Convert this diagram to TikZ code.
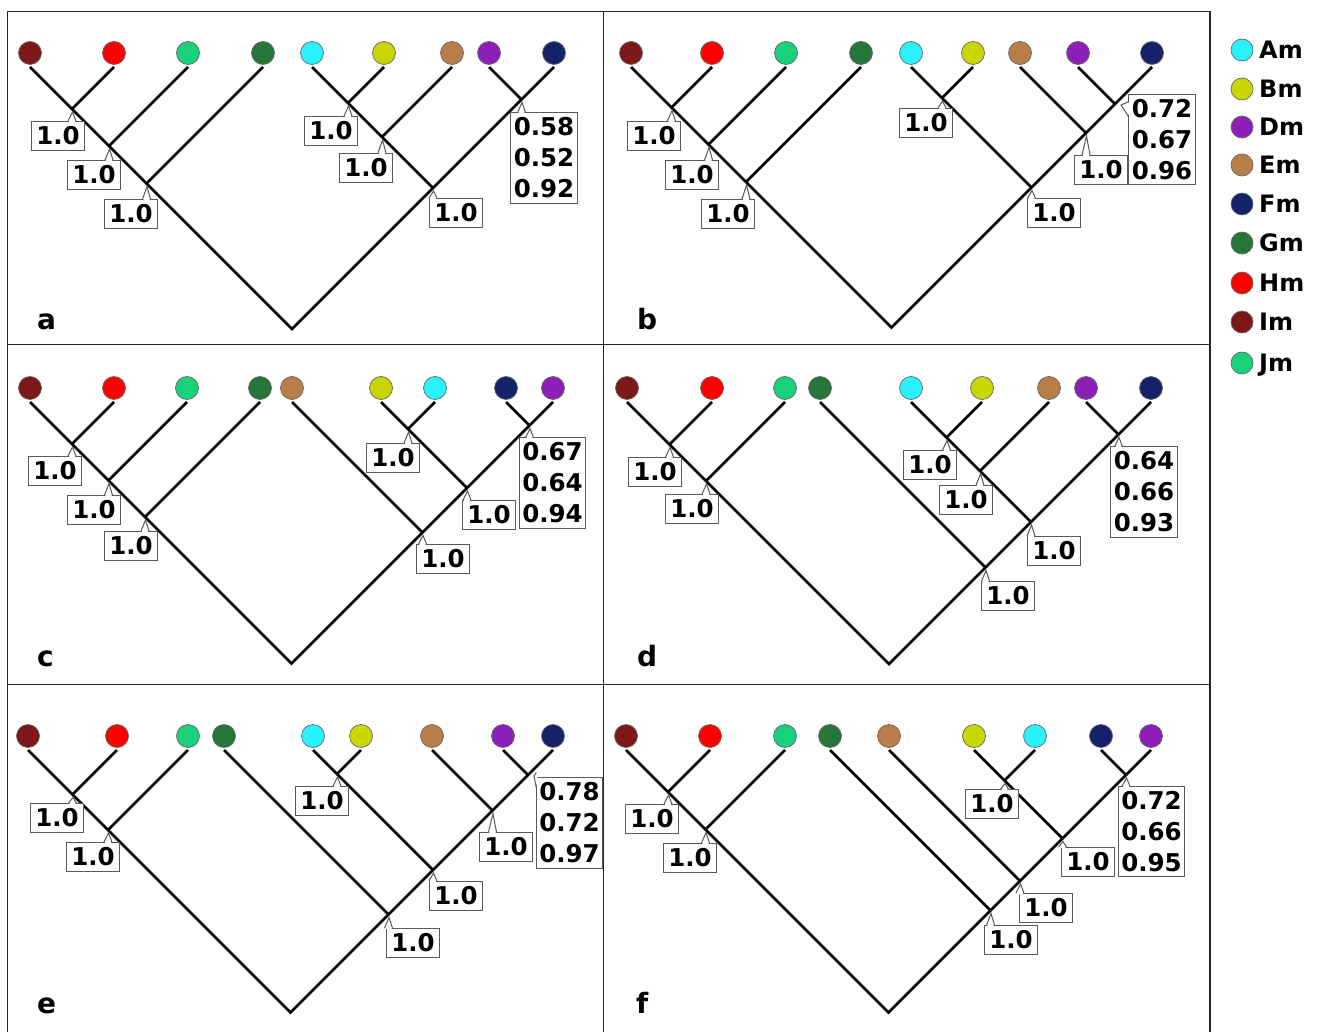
\documentclass[tikz,border=0pt]{standalone}
\usepackage{fontspec}
\setmainfont{DejaVu Sans}
\usetikzlibrary{calc}

\definecolor{cAm}{HTML}{2AF2FC}
\definecolor{cBm}{HTML}{CAD600}
\definecolor{cDm}{HTML}{8E1FB6}
\definecolor{cEm}{HTML}{B97D49}
\definecolor{cFm}{HTML}{15226A}
\definecolor{cGm}{HTML}{26763A}
\definecolor{cHm}{HTML}{FF0000}
\definecolor{cIm}{HTML}{7E1718}
\definecolor{cJm}{HTML}{19D07B}

\tikzset{
  branch/.style={line width=2.7pt},
  leafdot/.style={circle, minimum size=23pt, inner sep=0pt, draw=black!60, line width=0.7pt},
  suppbase/.style={draw=black!65, line width=1pt, fill=white, outer sep=0pt,
    font=\bfseries\fontsize{24.5}{31}\selectfont},
  supp/.style={suppbase, inner xsep=4.5pt, inner ysep=6pt, text height=17.8pt, text depth=0pt},
  supp3/.style={suppbase, align=center, inner xsep=3pt, inner ysep=5pt},
  pointer/.style={draw=black!65, line width=1pt, line join=miter},
  frame/.style={line width=1.3pt, draw=black!85},
  panel/.style={font=\bfseries\fontsize{28}{30}\selectfont, anchor=base west, inner sep=0pt},
  legtext/.style={font=\bfseries\fontsize{24}{26}\selectfont, anchor=base west, inner sep=0pt}
}

% a coloured tip with the point where its branch starts
\newcommand\leaf[4]{%
  \node[leafdot, fill=#4] (#1) at (#2,#3) {};
  \coordinate (#1t) at (#2,{#3+14});}
% inner vertex of a slanted cladogram: spans the tips at x=#2 .. #3
\newcommand\joint[4]{\coordinate (#1) at ({(#2+#3)/2},{#4+(#3-#2)/2});}
% support value box with a small pointer up to its vertex
\newcommand\support[5]{%
  \node[#1] (#2) at (#4) {#5};
  \fill[white] let \p1=(#2.north), \p2=(#3) in
    (\x2-3.2pt,\y1-1pt) -- (\x2+0.5pt,\y2-3pt) -- (\x2+3.2pt,\y1-1pt) -- cycle;
  \draw[pointer] let \p1=(#2.north), \p2=(#3) in
    (\x2-4pt,\y1) -- (\x2+0.5pt,\y2-3pt) -- (\x2+4pt,\y1);}
% same, with the pointer on the left side of the box
\newcommand\supportW[5]{%
  \node[#1] (#2) at (#4) {#5};
  \fill[white] let \p1=(#2.west), \p2=(#3) in
    (\x1+1pt,\y2+1.5pt) -- (\x2+6pt,\y2-1pt) -- (\x1+1pt,\y2-12.5pt) -- cycle;
  \draw[pointer] let \p1=(#2.west), \p2=(#3) in
    (\x1,\y2+2.5pt) -- (\x2+6pt,\y2-1pt) -- (\x1,\y2-13pt);}

\begin{document}
\begin{tikzpicture}[x=1pt,y=-1pt]
\useasboundingbox (0,0) rectangle (1317,1032);

% panel frame
\draw[frame] (7.5,1032) -- (7.5,11.5) -- (1210,11.5) -- (1210,1032);
\draw[frame] (603.5,11.5) -- (603.5,1032);
\draw[frame] (7.5,344.5) -- (1210,344.5);
\draw[frame] (7.5,684.5) -- (1210,684.5);

% ---------------- a ----------------
\leaf{aI}{30}{53}{cIm}\leaf{aH}{114}{53}{cHm}\leaf{aJ}{188}{53}{cJm}
\leaf{aG}{263}{53}{cGm}\leaf{aA}{312}{53}{cAm}\leaf{aB}{384}{53}{cBm}
\leaf{aE}{452}{53}{cEm}\leaf{aD}{489}{53}{cDm}\leaf{aF}{554}{53}{cFm}
\joint{a1}{30}{114}{67}\joint{a2}{30}{188}{67}\joint{a3}{30}{263}{67}
\joint{a4}{312}{384}{67}\joint{a5}{312}{452}{67}\joint{a6}{489}{554}{67}
\joint{a7}{312}{554}{67}\joint{a0}{30}{554}{67}
\draw[branch] (aIt) -- (a1) -- (a2) -- (a3) -- (a0) -- (a7) -- (a6) -- (aFt);
\draw[branch] (aHt) -- (a1); \draw[branch] (aJt) -- (a2); \draw[branch] (aGt) -- (a3);
\draw[branch] (aAt) -- (a4) -- (a5) -- (a7); \draw[branch] (aBt) -- (a4);
\draw[branch] (aEt) -- (a5); \draw[branch] (aDt) -- (a6);
\support{supp}{la1}{a1}{58,136}{1.0}
\support{supp}{la2}{a2}{94,175}{1.0}
\support{supp}{la3}{a3}{131,214}{1.0}
\support{supp}{la4}{a4}{331,131}{1.0}
\support{supp}{la5}{a5}{366,168}{1.0}
\support{supp}{la7}{a7}{456,213}{1.0}
\support{supp3}{la6}{a6}{544,158}{0.58\\0.52\\0.92}
\node[panel] (pa) at (37,330) {a};

% ---------------- b ----------------
\leaf{bI}{631}{53}{cIm}\leaf{bH}{712}{53}{cHm}\leaf{bJ}{786}{53}{cJm}
\leaf{bG}{861}{53}{cGm}\leaf{bA}{911}{53}{cAm}\leaf{bB}{973}{53}{cBm}
\leaf{bE}{1020}{53}{cEm}\leaf{bD}{1078}{53}{cDm}\leaf{bF}{1152}{53}{cFm}
\joint{b1}{631}{712}{67}\joint{b2}{631}{786}{67}\joint{b3}{631}{861}{67}
\joint{b4}{911}{973}{67}\joint{b5}{1078}{1152}{67}\joint{b6}{1020}{1152}{67}
\joint{b7}{911}{1152}{67}\joint{b0}{631}{1152}{67}
\draw[branch] (bIt) -- (b1) -- (b2) -- (b3) -- (b0) -- (b7) -- (b6) -- (b5) -- (bFt);
\draw[branch] (bHt) -- (b1); \draw[branch] (bJt) -- (b2); \draw[branch] (bGt) -- (b3);
\draw[branch] (bAt) -- (b4) -- (b7); \draw[branch] (bBt) -- (b4);
\draw[branch] (bEt) -- (b6); \draw[branch] (bDt) -- (b5);
\support{supp}{lb1}{b1}{654,136}{1.0}
\support{supp}{lb2}{b2}{692,175}{1.0}
\support{supp}{lb3}{b3}{728,214}{1.0}
\support{supp}{lb4}{b4}{926,123}{1.0}
\support{supp}{lb6}{b6}{1101,170}{1.0}
\support{supp}{lb7}{b7}{1054,213}{1.0}
\supportW{supp3}{lb5}{b5}{1162,139.5}{0.72\\0.67\\0.96}
\node[panel] (pb) at (637,330) {b};

% ---------------- c ----------------
\leaf{cI}{30}{388}{cIm}\leaf{cH}{114}{388}{cHm}\leaf{cJ}{187}{388}{cJm}
\leaf{cG}{260}{388}{cGm}\leaf{cE}{292}{388}{cEm}\leaf{cB}{381}{388}{cBm}
\leaf{cA}{435}{388}{cAm}\leaf{cF}{506}{388}{cFm}\leaf{cD}{553}{388}{cDm}
\joint{c1}{30}{114}{402}\joint{c2}{30}{187}{402}\joint{c3}{30}{260}{402}
\joint{c4}{381}{435}{402}\joint{c5}{506}{553}{402}\joint{c6}{381}{553}{402}
\joint{c7}{292}{553}{402}\joint{c0}{30}{553}{402}
\draw[branch] (cIt) -- (c1) -- (c2) -- (c3) -- (c0) -- (c7) -- (c6) -- (c5) -- (cDt);
\draw[branch] (cHt) -- (c1); \draw[branch] (cJt) -- (c2); \draw[branch] (cGt) -- (c3);
\draw[branch] (cEt) -- (c7); \draw[branch] (cBt) -- (c4) -- (c6);
\draw[branch] (cAt) -- (c4); \draw[branch] (cFt) -- (c5);
\support{supp}{lc1}{c1}{55,471}{1.0}
\support{supp}{lc2}{c2}{94,510}{1.0}
\support{supp}{lc3}{c3}{131,546}{1.0}
\support{supp}{lc4}{c4}{393,458}{1.0}
\support{supp}{lc6}{c6}{489,515}{1.0}
\support{supp}{lc7}{c7}{443,559}{1.0}
\support{supp3}{lc5}{c5}{552.5,483}{0.67\\0.64\\0.94}
\node[panel] (pc) at (37,666) {c};

% ---------------- d ----------------
\leaf{dI}{627}{388}{cIm}\leaf{dH}{712}{388}{cHm}\leaf{dJ}{785}{388}{cJm}
\leaf{dG}{820}{388}{cGm}\leaf{dA}{911}{388}{cAm}\leaf{dB}{982}{388}{cBm}
\leaf{dE}{1049}{388}{cEm}\leaf{dD}{1086}{388}{cDm}\leaf{dF}{1151}{388}{cFm}
\joint{d1}{627}{712}{402}\joint{d2}{627}{785}{402}\joint{d3}{911}{982}{402}
\joint{d4}{911}{1049}{402}\joint{d5}{1086}{1151}{402}\joint{d6}{911}{1151}{402}
\joint{d7}{820}{1151}{402}\joint{d0}{627}{1151}{402}
\draw[branch] (dIt) -- (d1) -- (d2) -- (d0) -- (d7) -- (d6) -- (d5) -- (dFt);
\draw[branch] (dHt) -- (d1); \draw[branch] (dJt) -- (d2); \draw[branch] (dGt) -- (d7);
\draw[branch] (dAt) -- (d3) -- (d4) -- (d6); \draw[branch] (dBt) -- (d3);
\draw[branch] (dEt) -- (d4); \draw[branch] (dDt) -- (d5);
\support{supp}{ld1}{d1}{655,472}{1.0}
\support{supp}{ld2}{d2}{692,509}{1.0}
\support{supp}{ld3}{d3}{930,465}{1.0}
\support{supp}{ld4}{d4}{966,500}{1.0}
\support{supp}{ld6}{d6}{1054,551}{1.0}
\support{supp}{ld7}{d7}{1008,596}{1.0}
\support{supp3}{ld5}{d5}{1144,492}{0.64\\0.66\\0.93}
\node[panel] (pd) at (637,666) {d};

% ---------------- e ----------------
\leaf{eI}{28}{736}{cIm}\leaf{eH}{117}{736}{cHm}\leaf{eJ}{188}{736}{cJm}
\leaf{eG}{224}{736}{cGm}\leaf{eA}{313}{736}{cAm}\leaf{eB}{361}{736}{cBm}
\leaf{eE}{432}{736}{cEm}\leaf{eD}{503}{736}{cDm}\leaf{eF}{553}{736}{cFm}
\joint{e1}{28}{117}{750}\joint{e2}{28}{188}{750}\joint{e3}{313}{361}{750}
\joint{e4}{503}{553}{750}\joint{e5}{432}{553}{750}\joint{e6}{313}{553}{750}
\joint{e7}{224}{553}{750}\joint{e0}{28}{553}{750}
\draw[branch] (eIt) -- (e1) -- (e2) -- (e0) -- (e7) -- (e6) -- (e5) -- (e4) -- (eFt);
\draw[branch] (eHt) -- (e1); \draw[branch] (eJt) -- (e2); \draw[branch] (eGt) -- (e7);
\draw[branch] (eAt) -- (e3) -- (e6); \draw[branch] (eBt) -- (e3);
\draw[branch] (eEt) -- (e5); \draw[branch] (eDt) -- (e4);
\support{supp}{le1}{e1}{57,818}{1.0}
\support{supp}{le2}{e2}{93,857}{1.0}
\support{supp}{le3}{e3}{322,801}{1.0}
\support{supp}{le5}{e5}{506,847}{1.0}
\support{supp}{le6}{e6}{456,896}{1.0}
\support{supp}{le7}{e7}{413,943}{1.0}
\supportW{supp3}{le4}{e4}{569.5,823}{0.78\\0.72\\0.97}
\node[panel] (pe) at (37,1013) {e};

% ---------------- f ----------------
\leaf{fI}{626}{736}{cIm}\leaf{fH}{710}{736}{cHm}\leaf{fJ}{785}{736}{cJm}
\leaf{fG}{830}{736}{cGm}\leaf{fE}{889}{736}{cEm}\leaf{fB}{974}{736}{cBm}
\leaf{fA}{1035}{736}{cAm}\leaf{fF}{1101}{736}{cFm}\leaf{fD}{1151}{736}{cDm}
\joint{f1}{626}{710}{750}\joint{f2}{626}{785}{750}\joint{f3}{974}{1035}{750}
\joint{f4}{1101}{1151}{750}\joint{f5}{974}{1151}{750}\joint{f6}{889}{1151}{750}
\joint{f7}{830}{1151}{750}\joint{f0}{626}{1151}{750}
\draw[branch] (fIt) -- (f1) -- (f2) -- (f0) -- (f7) -- (f6) -- (f5) -- (f4) -- (fDt);
\draw[branch] (fHt) -- (f1); \draw[branch] (fJt) -- (f2); \draw[branch] (fGt) -- (f7);
\draw[branch] (fEt) -- (f6); \draw[branch] (fBt) -- (f3) -- (f5);
\draw[branch] (fAt) -- (f3); \draw[branch] (fFt) -- (f4);
\support{supp}{lf1}{f1}{652,819}{1.0}
\support{supp}{lf2}{f2}{690,858}{1.0}
\support{supp}{lf3}{f3}{992,804}{1.0}
\support{supp}{lf5}{f5}{1088,862}{1.0}
\support{supp}{lf6}{f6}{1046,908}{1.0}
\support{supp}{lf7}{f7}{1011,940}{1.0}
\support{supp3}{lf4}{f4}{1151.5,831.5}{0.72\\0.66\\0.95}
\node[panel] (pf) at (636,1013) {f};

% ---------------- key ----------------
\foreach \n/\c/\y in {Am/cAm/50, Bm/cBm/89, Dm/cDm/127, Em/cEm/165, Fm/cFm/204,
                      Gm/cGm/243, Hm/cHm/283, Im/cIm/322, Jm/cJm/363} {
  \node[leafdot, fill=\c, minimum size=22pt] (k\n) at (1242,\y) {};
  \node[legtext] (k\n t) at (1259,\y+8.5) {\n};
}
\end{tikzpicture}
\end{document}
